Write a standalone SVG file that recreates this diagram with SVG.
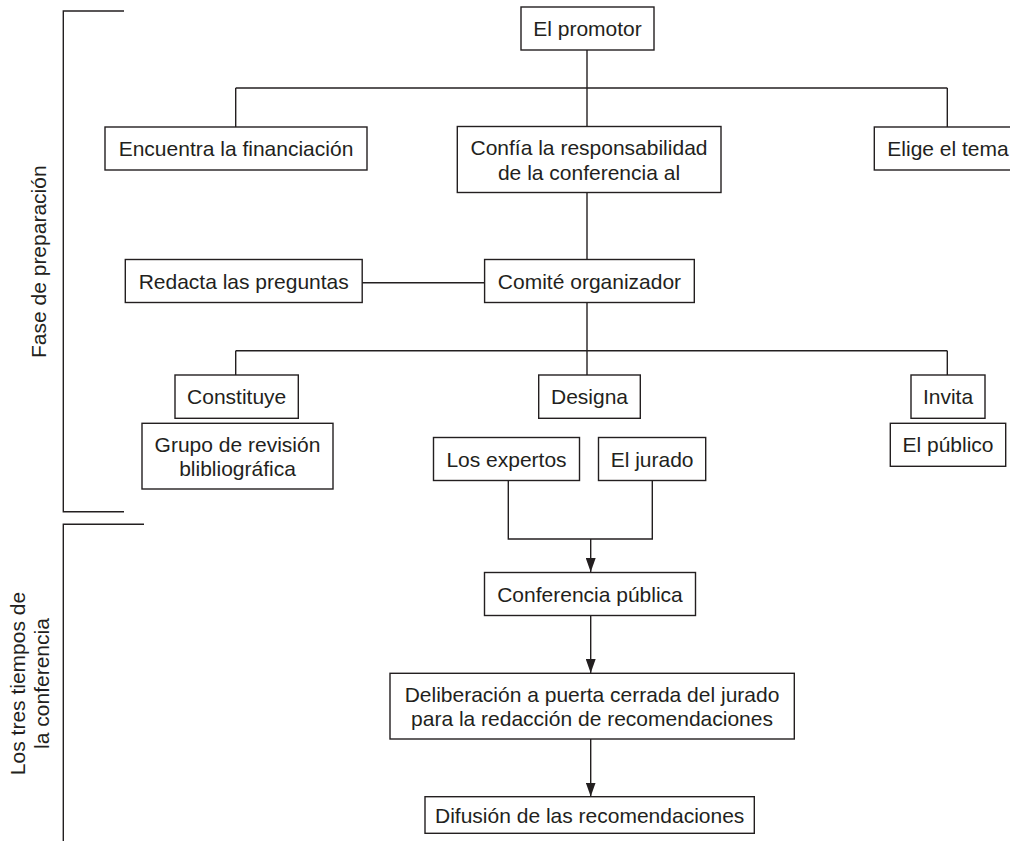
<svg xmlns="http://www.w3.org/2000/svg" width="1010" height="841" viewBox="0 0 1010 841">
<style>
.box{fill:#fff;stroke:#231f20;stroke-width:1.4}
.t{font-family:"Liberation Sans",Arial,sans-serif;font-size:21px;fill:#231f20;text-anchor:middle}
.ln{fill:none;stroke:#231f20;stroke-width:1.4}
</style>
<defs>
<marker id="arr" markerUnits="userSpaceOnUse" markerWidth="14" markerHeight="10" refX="14" refY="5" orient="auto" viewBox="0 0 14 10">
<path d="M0,0 L14,5 L0,10 Z" fill="#231f20"/>
</marker>
</defs>
<g id="brackets">
<polyline class="ln" points="124,11 63.3,11 63.3,511.7 124,511.7"/>
<polyline class="ln" points="144,524.3 63.3,524.3 63.3,842"/>
<text class="t" transform="translate(46,261.7) rotate(-90)">Fase de preparación</text>
<text class="t" transform="translate(24.5,683.5) rotate(-90)">Los tres tiempos de</text>
<text class="t" transform="translate(49,683.5) rotate(-90)">la conferencia</text>
</g>
<g id="connectors">
<line class="ln" x1="587" y1="50" x2="587" y2="88"/>
<line class="ln" x1="235.7" y1="88" x2="947.3" y2="88"/>
<line class="ln" x1="235.7" y1="88" x2="235.7" y2="127"/>
<line class="ln" x1="587" y1="88" x2="587" y2="126.5"/>
<line class="ln" x1="947.3" y1="88" x2="947.3" y2="127"/>
<line class="ln" x1="587" y1="192.5" x2="587" y2="259.5"/>
<line class="ln" x1="362" y1="282.7" x2="485" y2="282.7"/>
<line class="ln" x1="587" y1="302.5" x2="587" y2="350.7"/>
<line class="ln" x1="235.7" y1="350.7" x2="947.3" y2="350.7"/>
<line class="ln" x1="235.7" y1="350.7" x2="235.7" y2="375"/>
<line class="ln" x1="587" y1="350.7" x2="587" y2="375"/>
<line class="ln" x1="947.3" y1="350.7" x2="947.3" y2="375"/>
<polyline class="ln" points="508.3,480.5 508.3,539 652.3,539 652.3,480.5"/>
<line class="ln" x1="590.7" y1="539" x2="590.7" y2="572" marker-end="url(#arr)"/>
<line class="ln" x1="590.7" y1="615.5" x2="590.7" y2="673" marker-end="url(#arr)"/>
<line class="ln" x1="590.7" y1="739" x2="590.7" y2="796.5" marker-end="url(#arr)"/>
</g>
<g id="n-promotor"><rect class="box" x="521" y="7" width="133" height="43"/><text class="t" x="587.5" y="36">El promotor</text></g>
<g id="n-financiacion"><rect class="box" x="105" y="127" width="262" height="43"/><text class="t" x="236" y="156">Encuentra la financiación</text></g>
<g id="n-confia"><rect class="box" x="457.3" y="126.5" width="263.7" height="66"/><text class="t" x="589" y="155">Confía la responsabilidad</text><text class="t" x="589" y="179.5">de la conferencia al</text></g>
<g id="n-elige"><rect class="box" x="874.3" y="127" width="150" height="43"/><text class="t" x="948" y="156">Elige el tema</text></g>
<g id="n-redacta"><rect class="box" x="125.3" y="259.5" width="236.9" height="43"/><text class="t" x="243.7" y="288.5">Redacta las preguntas</text></g>
<g id="n-comite"><rect class="box" x="484.6" y="259.5" width="209.7" height="43"/><text class="t" x="589.5" y="288.5">Comité organizador</text></g>
<g id="n-constituye"><rect class="box" x="175" y="375" width="123.3" height="43.3"/><text class="t" x="236.7" y="404">Constituye</text></g>
<g id="n-grupo"><rect class="box" x="142" y="423.3" width="191" height="65.7"/><text class="t" x="237.5" y="451.5">Grupo de revisión</text><text class="t" x="237.5" y="476">blibliográfica</text></g>
<g id="n-designa"><rect class="box" x="538.7" y="375" width="101.6" height="43.3"/><text class="t" x="589.5" y="404">Designa</text></g>
<g id="n-invita"><rect class="box" x="911" y="375" width="74" height="43.3"/><text class="t" x="948" y="404">Invita</text></g>
<g id="n-publico"><rect class="box" x="890.3" y="423.3" width="115.4" height="43"/><text class="t" x="948" y="452.3">El público</text></g>
<g id="n-expertos"><rect class="box" x="433.5" y="437.5" width="146" height="43"/><text class="t" x="506.5" y="466.5">Los expertos</text></g>
<g id="n-jurado"><rect class="box" x="598.5" y="437.5" width="107.2" height="43"/><text class="t" x="652.1" y="466.5">El jurado</text></g>
<g id="n-conferencia"><rect class="box" x="484.5" y="572.5" width="211" height="43"/><text class="t" x="590" y="601.5">Conferencia pública</text></g>
<g id="n-deliberacion"><rect class="box" x="390" y="673.3" width="404.3" height="65.7"/><text class="t" x="592" y="701.5">Deliberación a puerta cerrada del jurado</text><text class="t" x="592" y="726">para la redacción de recomendaciones</text></g>
<g id="n-difusion"><rect class="box" x="425" y="796.7" width="329.3" height="36.6"/><text class="t" x="589.7" y="822.5">Difusión de las recomendaciones</text></g>
</svg>
